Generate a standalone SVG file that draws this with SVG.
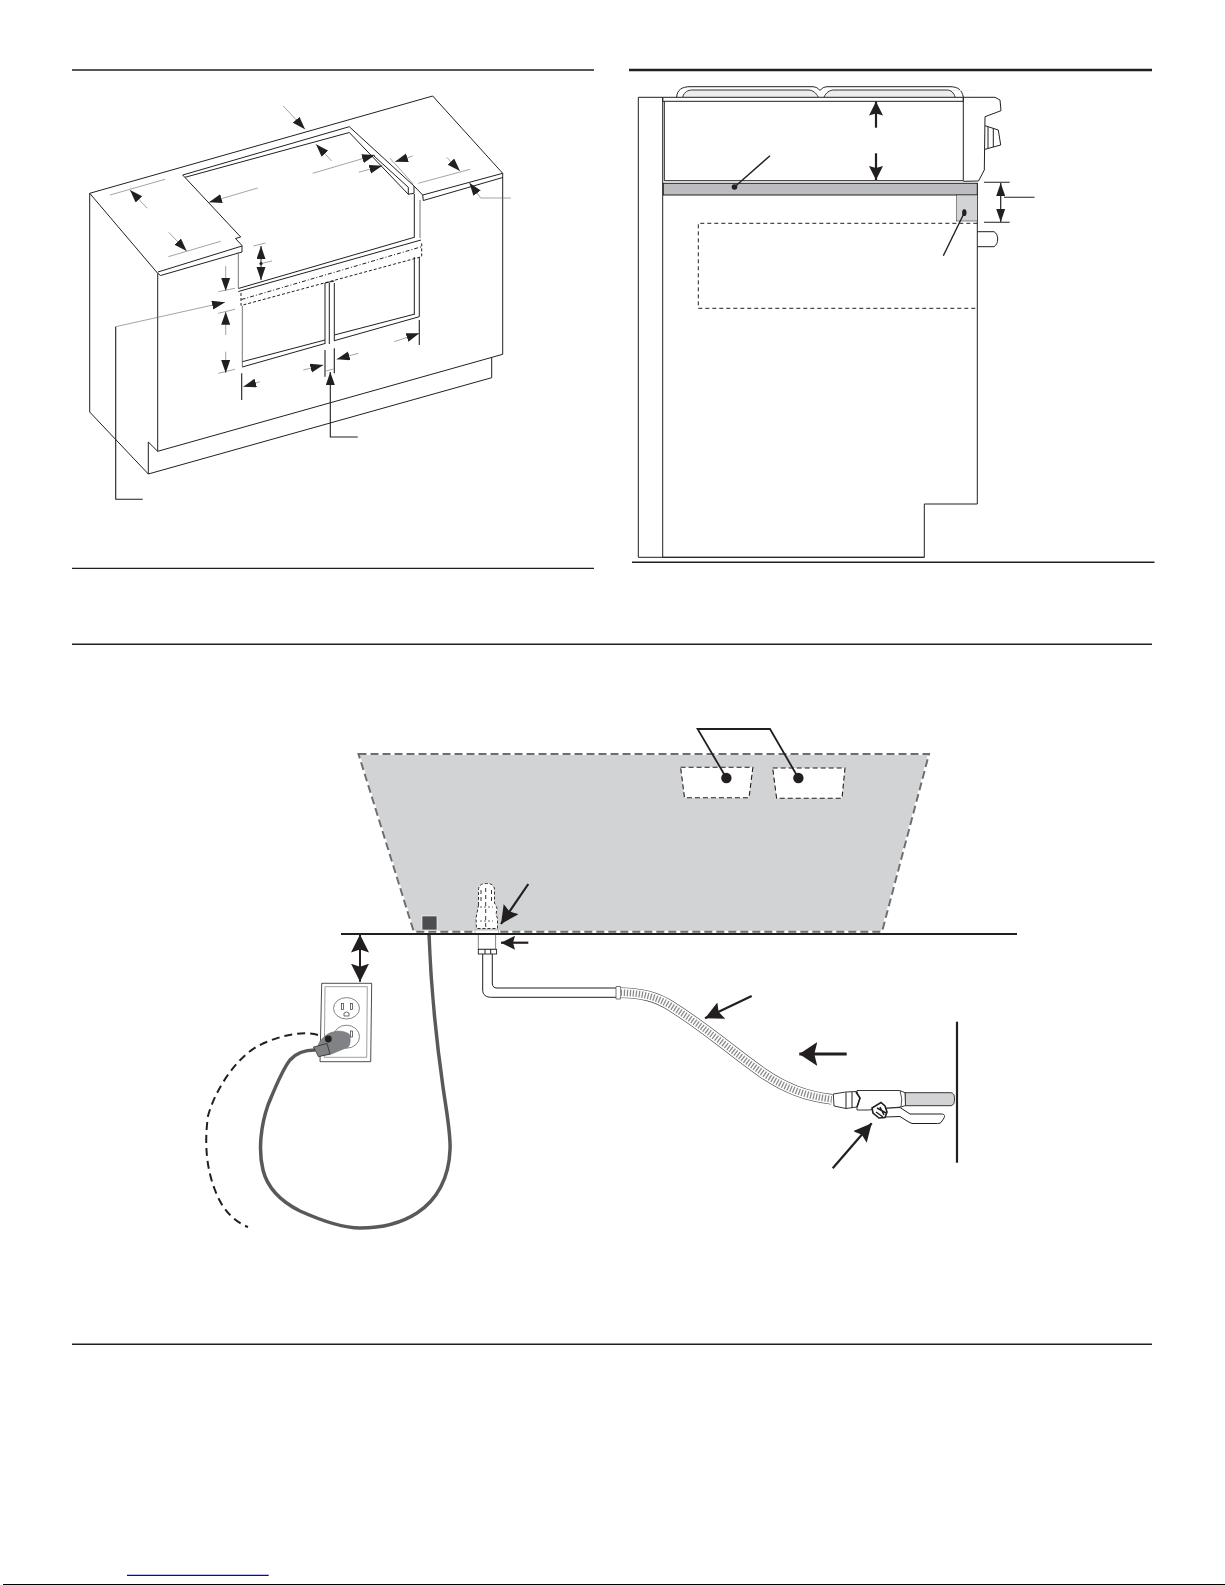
<svg xmlns="http://www.w3.org/2000/svg" width="1225" height="1585" viewBox="0 0 1225 1585">
<style>
.o{fill:none;stroke:#231f20;stroke-width:1;stroke-linejoin:round}
.g{fill:none;stroke:#777;stroke-width:1}
.d{fill:none;stroke:#666;stroke-width:.6;marker-end:url(#s)}
.t{fill:none;stroke:#666;stroke-width:.6}
.k{fill:none;stroke:#231f20;stroke-width:1.1}
.p{fill:none;stroke:#231f20;stroke-width:1.4}
.r{fill:none;stroke:#231f20;stroke-width:1.4}
.h{fill:none;stroke:#231f20;stroke-width:1.8}
.b{fill:none;stroke:#231f20;stroke-width:2.2}
</style>
<defs>
<marker id="s" markerUnits="userSpaceOnUse" markerWidth="14" markerHeight="10" refX="13" refY="4.5" orient="auto-start-reverse"><path d="M0 0L13 4.5L0 9z" fill="#231f20"/></marker>
<marker id="m" markerUnits="userSpaceOnUse" markerWidth="15" markerHeight="15" refX="14" refY="7" orient="auto-start-reverse"><path d="M0 0L14 7L0 14L2 7z" fill="#231f20"/></marker>
<marker id="l" markerUnits="userSpaceOnUse" markerWidth="20" markerHeight="19" refX="18" refY="9" orient="auto-start-reverse"><path d="M0 0L18 9L0 18L3 9z" fill="#231f20"/></marker>
<marker id="x" markerUnits="userSpaceOnUse" markerWidth="19" markerHeight="25" refX="18" refY="12" orient="auto"><path d="M0 0L18 12L0 24L3 12z" fill="#231f20"/></marker>
</defs>
<rect width="1225" height="1585" fill="#fff"/>

<g id="rules">
<path class="r" d="M72 70H594M72 568.4H594M72 644.3H1152M72 1344.3H1152M632 562.3H1154.5"/>
<path d="M629 70H1152" fill="none" stroke="#231f20" stroke-width="2.4"/>
</g>

<g id="cabinet">
<path class="o" d="M89.7 193.3L432.7 96L502.7 173.3V354.3L157.7 451.3V273.3L89.7 193.3V412L148.3 474L491.7 377.7V357.7"/>
<path class="o" d="M148.3 474V442L157.7 451.3"/>
<path class="o" d="M157.7 273.3L160.5 275.5L242 252V245.5L235.5 238.5L240.7 237L182.7 175L349.3 126.7L414 186V193.3L408.3 194.3V187.3L374 156M408.3 194.3L349.3 132.5L185 177.3"/>
<path class="o" d="M158 272L242 246"/>
<path class="o" d="M414 186L422.7 195L423.3 200.5L502.7 177.5M422.7 195L502.7 173.3"/>
<path class="o" d="M414.3 194V237.5"/>
<path class="g" d="M420 200V238M238.3 252V288"/>
<path class="o" d="M238.3 288.5L414.3 237.3M238.3 291.5L421 240"/>
<path d="M241 293V305.5L421.7 256.7V241.5" fill="none" stroke="#231f20" stroke-width="1" stroke-dasharray="3 2"/>
<path d="M241.5 299.5L421.7 246.7" fill="none" stroke="#231f20" stroke-width="1" stroke-dasharray="4 2 1 2"/>
<path class="g" d="M242.3 306V367"/>
<path class="o" d="M242.3 361.7L325 340M242.3 367L325 343.5M334.3 335L415 314M334.3 340.7L419.3 316.7"/>
<path class="o" d="M325 283V344M329.3 283V344M334.3 283V341M325 283L334.3 281"/>
<path class="o" d="M414.3 257V314M419.3 257V316.7"/>
</g>

<g id="cabinet-dimensions">
<path class="d" d="M283.3 106L305 129.3"/>
<path class="d" d="M331.7 161L316 144.3"/>
<path class="d" d="M312.7 173.3L375 155"/>
<path class="d" d="M358.7 172.3L382.3 165.7"/>
<path class="d" d="M412.7 156L395 161.7"/>
<path class="t" d="M390 158.3L413.3 184"/>
<path class="d" d="M446.7 157.3L460 171"/>
<path class="t" d="M418.3 183.3L470 169.3"/>
<path class="d" d="M510.7 198H480.7L469.3 182.7"/>
<path class="d" d="M147.3 208.3L130 190"/>
<path class="t" d="M110 195L165 179.3"/>
<path class="d" d="M168.7 232.3L186.7 251"/>
<path class="t" d="M168.3 256.7L220.7 241.3"/>
<path class="d" d="M257.7 188L209 202.3"/>
<path d="M261 246V280" fill="none" stroke="#231f20" stroke-width="1" marker-start="url(#s)" marker-end="url(#s)"/>
<path class="t" d="M253.5 246L265.5 243M261 263.5L272 261"/>
<circle cx="261" cy="263.5" r="1.6" fill="#231f20"/>
<path class="d" d="M225.7 266V291"/>
<path class="t" d="M218.3 291.7L235 288.3M218.3 313.3L235 309.3M218.3 373.3L235 369.3"/>
<path class="d" d="M225.7 335V311.7"/>
<path class="d" d="M225.7 351.7V373"/>
<path class="d" d="M115.7 326.7L225 302.3"/>
<path class="k" d="M115.7 326.7V499.3H142.7"/>
<path class="d" d="M260 381.7L243.3 386.7"/>
<path class="k" d="M241.7 373.3V400M325 350V376.7M334.3 348.3V373.3M419.3 320V345"/>
<path class="d" d="M303.3 370L323.3 365"/>
<path class="d" d="M358.3 353.3L336.7 359.3"/>
<path class="d" d="M394.3 341.7L419.3 333.3"/>
<path class="k" d="M357.7 437H330.3V372" marker-end="url(#s)"/>
<path class="t" d="M326 371L333.3 369"/>
</g>

<g id="range-side">
<path class="o" stroke-width="1.3" d="M638.3 97.3H662.7V557.3H924.3V504H977.3V183"/>
<path class="o" d="M638.3 97.3V557.3H924.3"/>
<path d="M676.7 97C677 90 682 86.7 690 86.7H812C816 86.7 818 88 820 90.5C822 88 824 86.7 828 86.7H950C958 86.7 962 90 963.3 97" fill="#fff" stroke="#231f20" stroke-width="1"/>
<path d="M682.7 97C684 92 688 90 692 90H808C813 90 816 93 818.3 97ZM824 97C826 93 829 90 834 90H978" fill="#eceded" stroke="none"/>
<path d="M682.7 97C684 92 688 90 692 90H808C813 90 816 93 818.3 97M824 97C826 93 829 90 834 90H947C951 90 954 93 955 97" fill="#eceded" stroke="#231f20" stroke-width=".9"/>
<path class="o" d="M662.7 97.3H963.3V101.3H662.7ZM664.3 101.3V180.7H963.3V97.3"/>
<path class="o" d="M963.3 97.3H995L1000 100L1001 110.7L985 116.7L984.3 170L978.5 181L963.3 181.3"/>
<path class="o" d="M985 125.7L998.3 130L1000.7 145L985 149.3M988 126.7V148M993.3 128V147"/>
<rect x="663.3" y="183.3" width="314" height="11.7" fill="#bbbdc0" stroke="#231f20" stroke-width="1"/>
<rect x="956.7" y="195" width="20.6" height="26" fill="#d1d3d4" stroke="#231f20" stroke-width=".5"/>
<path d="M977.3 223.3H698.3V308.3H977.3" fill="none" stroke="#231f20" stroke-width="1" stroke-dasharray="4 3"/>
<path class="o" d="M977.3 231.7H994C996.5 233 997.7 236 997.7 239C997.7 242.5 996.5 245 994 246.7H977.3"/>
<path d="M876 127.7V101.5" class="b" style="marker-end:url(#m)"/>
<path d="M876 153.3V180" class="b" style="marker-end:url(#m)"/>
<path class="p" d="M770 155.7L734.5 187"/>
<circle cx="734.5" cy="187" r="2.8" fill="#231f20"/>
<path class="p" d="M943.3 255.7L964.3 212.7"/>
<ellipse cx="964.3" cy="212.7" rx="2.2" ry="3.4" fill="#231f20"/>
<path class="k" d="M984 182.3H1009.7M984 222.3H1009.7M1004 197.3H1034.5"/>
<path d="M1000.7 183V222" fill="none" stroke="#231f20" stroke-width="1.2" marker-start="url(#s)" marker-end="url(#s)"/>
</g>

<g id="cabinet-cutout">
<path d="M358.5 754H929L882 931.7H413.8Z" fill="#d1d3d4" stroke="#fff" stroke-width="2"/>
<path d="M358.5 754H929L882 931.7H413.8Z" fill="none" stroke="#6d6e71" stroke-width="2" stroke-dasharray="8 4"/>
<path d="M680.6 767.3H752.9L749 797.7H684.5Z" fill="#fff" stroke="#231f20" stroke-width="1.1" stroke-dasharray="5 3"/>
<path d="M772.7 768H845L842 798.3H776.6Z" fill="#fff" stroke="#231f20" stroke-width="1.1" stroke-dasharray="5 3"/>
<path class="h" d="M726.4 778L697.6 729H770L798.4 778"/>
<circle cx="726.4" cy="778" r="5.2" fill="#231f20"/>
<circle cx="798.4" cy="778" r="5.2" fill="#231f20"/>
<rect x="422" y="916" width="15" height="14" fill="#4d4d4f" stroke="#fff" stroke-width=".6"/>
</g>

<g id="gas-fitting">
<path d="M478.5 905V890C478.5 885 482 883.5 486.5 883.5C491 883.5 494.5 885 494.5 890V903L497 908L496 915L497.5 918V928.5H476.5L476 918L478 908Z" fill="#fff" stroke="#231f20" stroke-width=".9" stroke-dasharray="3 2"/>
<path d="M485.7 888V928M491.5 890V903M481 890V903" fill="none" stroke="#231f20" stroke-width=".9" stroke-dasharray="4 3"/>
<path d="M480 907H493M480 921H493" fill="none" stroke="#231f20" stroke-width=".7" stroke-dasharray="2 2"/>
<rect x="475" y="930" width="23.3" height="4" fill="#fff" stroke="#999" stroke-width=".6"/>
<rect x="478.3" y="934" width="17.3" height="15.3" fill="#fff" stroke="#808285" stroke-width="1"/>
<rect x="478.3" y="949.3" width="18.3" height="4.7" fill="#fff" stroke="#231f20" stroke-width=".9"/>
<path class="o" d="M485 949.3V954M490.7 949.3V954"/>
<path class="o" d="M482.7 954V990C482.7 995 486 997.3 491.7 997.3H616M492.3 954V983C492.3 986.5 494 988 497 988H616"/>
<path d="M616 986.5H620.5V999H616Z" fill="#fff" stroke="#555" stroke-width=".8"/>
<path d="M620.7 992.7C640 993 656 996 672 1006.7C690 1018 706 1030 723.3 1043.3C737 1054 750 1064 763.3 1073.3C785 1088 805 1096 831.7 1099.3" fill="none" stroke="#444" stroke-width="10.6"/>
<path d="M620.7 992.7C640 993 656 996 672 1006.7C690 1018 706 1030 723.3 1043.3C737 1054 750 1064 763.3 1073.3C785 1088 805 1096 831.7 1099.3" fill="none" stroke="#fff" stroke-width="9.4"/>
<path d="M620.7 992.7C640 993 656 996 672 1006.7C690 1018 706 1030 723.3 1043.3C737 1054 750 1064 763.3 1073.3C785 1088 805 1096 831.7 1099.3" fill="none" stroke="#8a8a8a" stroke-width="6.5" stroke-dasharray="1.3 1.7"/>
</g>

<g id="shutoff-valve">
<path d="M905 1092.7H950C953 1092.7 954.5 1094 954.5 1099C954.5 1104 953 1105.7 950 1105.7H905Z" fill="#d1d3d4" stroke="#231f20" stroke-width=".9"/>
<path d="M857 1090.5H899.5L905 1092.7L905.5 1105.5L901 1107L868 1110H857Z" fill="#fff" stroke="#231f20" stroke-width=".9"/>
<path d="M900 1090.5Q903 1099 901 1107" fill="none" stroke="#231f20" stroke-width=".8"/>
<path d="M833.3 1094L846 1092L856.5 1091.5L860 1098L857 1107L846 1108.5L834 1106Z" fill="#fff" stroke="#231f20" stroke-width=".9"/>
<path d="M856 1092L860 1098L857 1107" fill="none" stroke="#231f20" stroke-width="1.6"/>
<path class="o" d="M846 1092.5V1108.5M852 1092V1108"/>
<path d="M882 1108.5L900 1107.5L910 1114H941C945 1114 945 1116 944 1118L941 1122.5C940 1123.5 938 1123.5 936 1123.5H912C908 1122 904 1119 900 1116.5L885 1117" fill="#fff" stroke="#231f20" stroke-width="1"/>
<path d="M872 1108L881 1102.5L885 1106L887 1112L885 1117.5L879 1118L873 1113Z" fill="#fff" stroke="#231f20" stroke-width="1.6"/>
<path d="M877 1108L886 1113M876 1112L883 1117M880 1107L884 1115" stroke="#231f20" stroke-width="1.5" fill="none"/>
<path class="b" d="M957 1021.7V1162.7"/>
</g>

<g id="outlet">
<path d="M321.7 983.3H371.7L370.7 1061.7H320Z" fill="#fff" stroke="#231f20" stroke-width=".8"/>
<path d="M325 986.7H367.3L366.7 1057.3H324.3Z" fill="#fff" stroke="#888" stroke-width=".8"/>
<ellipse cx="346.5" cy="1008.3" rx="13" ry="10.7" fill="#fff" stroke="#666" stroke-width=".8"/>
<ellipse cx="346.5" cy="1036.7" rx="13" ry="11.5" fill="#fff" stroke="#666" stroke-width=".8"/>
<rect x="341.5" y="1003.5" width="2" height="6" fill="none" stroke="#333" stroke-width=".7"/>
<rect x="350.5" y="1003.5" width="2" height="6" fill="none" stroke="#333" stroke-width=".7"/>
<path d="M344 1016V1013Q346.5 1011 349 1013V1016Z" fill="none" stroke="#333" stroke-width=".7"/>
<rect x="350.5" y="1031" width="2" height="6" fill="none" stroke="#333" stroke-width=".7"/>
</g>

<g id="connectors">
<path d="M429 934C431 990 437 1045 443 1087C447 1115 451 1135 450 1150C449 1178 437 1200 417 1213C400 1224 378 1228 360 1228C342 1228 320 1220 300 1211C282 1202 268 1190 263 1170C258 1150 261 1125 268 1105C275 1088 282 1070 290 1060C297 1052 306 1050 315 1050" fill="none" stroke="#58595b" stroke-width="3.5"/>
<path d="M318 1035C300 1030 275 1037 256 1047C235 1060 215 1090 208 1116C204 1145 207 1170 215 1190C222 1210 235 1222 248 1227" fill="none" stroke="#231f20" stroke-width="2" stroke-dasharray="8 5"/>
<path d="M360 934.5V981.7" fill="none" stroke="#231f20" stroke-width="2" marker-start="url(#l)" marker-end="url(#l)"/>
<path class="b" style="marker-end:url(#l)" d="M528.3 884L501 924"/>
<path class="b" style="marker-end:url(#m)" d="M528.3 942.7H501"/>
<path class="b" style="marker-end:url(#l)" d="M751.7 996L705 1018.3"/>
<path d="M846.7 1054H799.3" fill="none" stroke="#231f20" stroke-width="3" marker-end="url(#x)"/>
<path class="b" style="marker-end:url(#l)" d="M832.7 1168.3L871.7 1123.3"/>
<path d="M341 934H1017" fill="none" stroke="#231f20" stroke-width="2"/>
</g>

<g id="plug">
<path d="M318.3 1045C320 1040 324 1036 330 1033C338 1030 344 1031 349 1034C351 1040 350 1045 348 1047L330 1054.5L320 1055.5Z" fill="#808285" stroke="#6d6e71" stroke-width=".7"/>
<path d="M313.5 1047L327 1043.5L330 1054L318.5 1056.7Z" fill="#808285" stroke="#231f20" stroke-width=".7"/>
<circle cx="328.3" cy="1039" r="3.4" fill="#231f20"/>
</g>

<g id="page-edge">
<path d="M127 1575.3H268.7" fill="none" stroke="#0000dd" stroke-width="1.2"/>
<path d="M3 1584.5H1225" fill="none" stroke="#000" stroke-width="1"/>
</g>
</svg>
